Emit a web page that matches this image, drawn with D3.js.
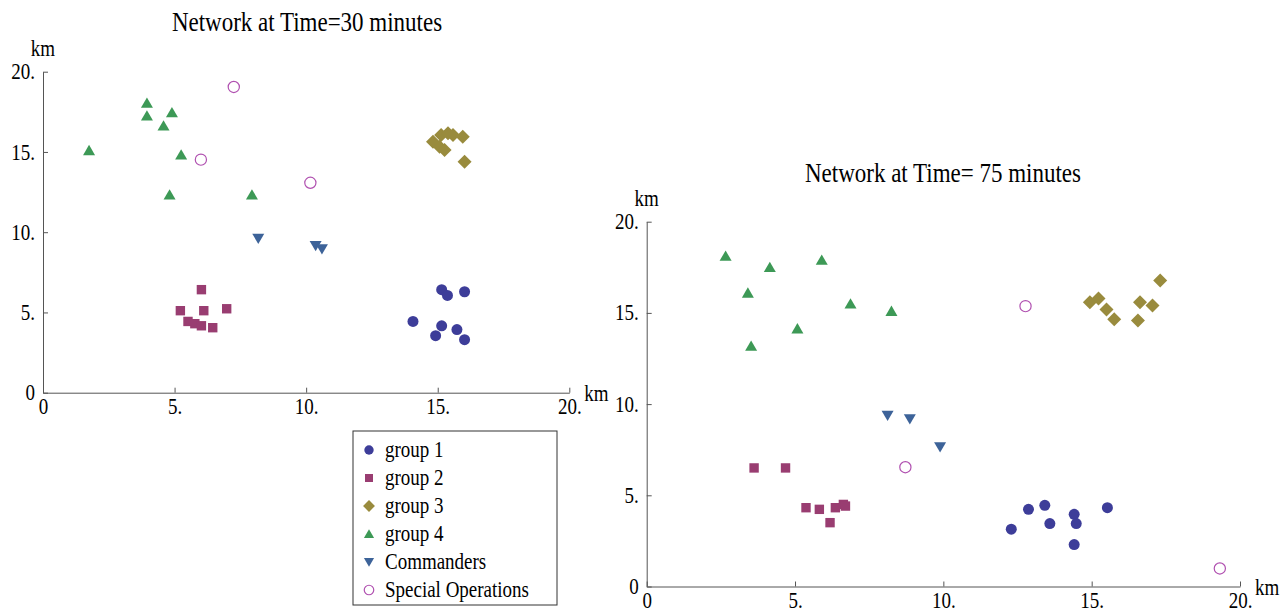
<!DOCTYPE html>
<html>
<head>
<meta charset="utf-8">
<script src="https://cdn.jsdelivr.net/npm/d3@7"></script>
<style>
  body { margin: 0; background: #fff; }
  .axis path, .axis line { stroke: #555; }
</style>
</head>
<body>
<div id="chart"></div>
<script>
var svgWidth = 1286;
var svgHeight = 614;
var serif = "'Liberation Serif', 'Times New Roman', 'DejaVu Serif', serif";
var stretch = 1.16; // text in the original is a little tall and narrow

// tick values shared by both panels (km)
var tickVals = [0, 5, 10, 15, 20];

// positions at time = 30 minutes, [x km, y km]
var group1At30 = [[14.06, 4.44], [15.15, 6.42], [15.37, 6.06], [16.02, 6.29], [15.15, 4.17], [14.92, 3.55], [15.73, 3.93], [16.02, 3.30]];
var group2At30 = [[5.22, 5.11], [5.51, 4.44], [5.77, 4.30], [6.02, 4.17], [6.02, 6.42], [6.11, 5.11], [6.45, 4.05], [6.98, 5.23]];
var group3At30 = [[14.82, 15.64], [15.07, 15.33], [15.26, 15.12], [15.13, 16.06], [15.39, 16.16], [15.58, 16.06], [15.95, 15.95], [16.02, 14.39]];
var group4At30 = [[1.75, 15.10], [3.95, 18.05], [3.95, 17.26], [4.90, 17.46], [4.58, 16.64], [5.25, 14.83], [4.81, 12.34], [7.94, 12.34]];
var commandersAt30 = [[8.18, 9.61], [10.36, 9.16], [10.60, 8.95]];
var specialOpsAt30 = [[7.25, 19.05], [6.00, 14.52], [10.16, 13.08]];

// positions at time = 75 minutes
var group1At75 = [[12.29, 3.14], [12.87, 4.23], [13.42, 4.45], [13.59, 3.45], [14.41, 3.96], [14.48, 3.45], [14.41, 2.30], [15.53, 4.32]];
var group2At75 = [[3.62, 6.50], [4.68, 6.50], [5.37, 4.32], [5.82, 4.23], [6.18, 3.50], [6.36, 4.32], [6.63, 4.50], [6.70, 4.41]];
var group3At75 = [[14.94, 15.59], [15.23, 15.79], [15.50, 15.19], [15.76, 14.65], [16.56, 14.59], [16.63, 15.59], [17.05, 15.41], [17.31, 16.78]];
var group4At75 = [[2.66, 18.12], [4.15, 17.50], [5.90, 17.90], [3.41, 16.10], [6.87, 15.50], [8.25, 15.10], [5.08, 14.14], [3.52, 13.19]];
var commandersAt75 = [[8.12, 9.37], [8.87, 9.18], [9.89, 7.65]];
var specialOpsAt75 = [[12.77, 15.37], [8.72, 6.54], [19.32, 0.99]];

var seriesNames = ["group 1", "group 2", "group 3", "group 4", "Commanders", "Special Operations"];
var seriesShapes = ["circle", "square", "diamond", "triUp", "triDown", "ring"];
var seriesColors = ["#3d3d99", "#993d71", "#998b3d", "#3d9956", "#3d6399", "#b050b0"];

var svg = d3.select("#chart")
  .append("svg")
  .attr("width", svgWidth)
  .attr("height", svgHeight)
  .attr("font-family", serif);

// path for each marker shape, centred on 0,0
function markerPath(shape, k) {
  var p = d3.path();
  if (shape === "circle" || shape === "ring") {
    var r = (shape === "ring" ? 5.6 : 5.5) * k;
    p.arc(0, 0, r, 0, 2 * Math.PI);
  } else if (shape === "square") {
    var h = 4.7 * k;
    p.rect(-h, -h, 2 * h, 2 * h);
  } else if (shape === "diamond") {
    var d = 7 * k;
    p.moveTo(0, -d); p.lineTo(d, 0); p.lineTo(0, d); p.lineTo(-d, 0); p.closePath();
  } else if (shape === "triUp") {
    var w = 6 * k, t = 5.5 * k, b = 4.8 * k;
    p.moveTo(0, -t); p.lineTo(w, b); p.lineTo(-w, b); p.closePath();
  } else {
    var w2 = 6 * k, t2 = 5.5 * k, b2 = 4.8 * k;
    p.moveTo(0, t2); p.lineTo(w2, -b2); p.lineTo(-w2, -b2); p.closePath();
  }
  return p.toString();
}

function styleMarker(sel, i) {
  if (seriesShapes[i] === "ring") {
    sel.attr("fill", "none").attr("stroke", seriesColors[i]).attr("stroke-width", 1.2);
  } else {
    sel.attr("fill", seriesColors[i]).attr("stroke", "none");
  }
}

function tickFmt(v) {
  return v === 0 ? "0" : v + ".";
}

function textStyle(sel, size) {
  sel.style("font-family", serif)
    .style("font-size", size + "px")
    .attr("fill", "#000");
}

// free text placed at x,y (baseline) and stretched vertically
function addText(parent, x, y, size, str, anchor) {
  return parent.append("text")
    .attr("transform", `translate(${x}, ${y}) scale(1, ${stretch})`)
    .attr("text-anchor", anchor || "start")
    .call(textStyle, size)
    .text(str);
}

// draw one panel
function drawPanel(cfg) {
  var x = d3.scaleLinear().domain([0, 20]).range([cfg.left, cfg.right]);
  var y = d3.scaleLinear().domain([0, 20]).range([cfg.bottom, cfg.top]);

  var g = svg.append("g");

  var xAxis = g.append("g")
    .attr("class", "axis")
    .attr("transform", `translate(0, ${cfg.bottom})`)
    .call(d3.axisBottom(x).tickValues(tickVals).tickFormat(tickFmt)
      .tickSizeInner(-5).tickSizeOuter(0).tickPadding(5));
  xAxis.attr("font-family", serif).attr("font-size", null);
  xAxis.selectAll("text").call(textStyle, 19).attr("transform", `scale(1, ${stretch})`);

  var yAxis = g.append("g")
    .attr("class", "axis")
    .attr("transform", `translate(${cfg.left}, 0)`)
    .call(d3.axisLeft(y).tickValues(tickVals).tickFormat(tickFmt)
      .tickSizeInner(-5).tickSizeOuter(0).tickPadding(8));
  yAxis.attr("font-family", serif).attr("font-size", null);
  yAxis.selectAll("text").call(textStyle, 19).attr("transform", `scale(1, ${stretch})`);

  // axis unit labels
  addText(g, cfg.left, cfg.top - 16, 19, "km", "middle");
  addText(g, cfg.right + 15, cfg.bottom + 8, 19, "km");

  addText(g, cfg.titleX, cfg.titleY, 23, cfg.title, "middle");

  cfg.series.forEach(function(data, i) {
    g.append("g").selectAll("path")
      .data(data)
      .enter()
      .append("path")
      .attr("d", markerPath(seriesShapes[i], 1))
      .attr("transform", d => `translate(${x(d[0])}, ${y(d[1])})`)
      .call(styleMarker, i);
  });
}

drawPanel({
  left: 43, right: 569.3, top: 71.7, bottom: 392.7,
  title: "Network at Time=30 minutes", titleX: 307, titleY: 31,
  series: [group1At30, group2At30, group3At30, group4At30, commandersAt30, specialOpsAt30]
});

drawPanel({
  left: 646.7, right: 1240, top: 221.7, bottom: 586.5,
  title: "Network at Time= 75 minutes", titleX: 943, titleY: 182,
  series: [group1At75, group2At75, group3At75, group4At75, commandersAt75, specialOpsAt75]
});

// legend box
var legend = svg.append("g").attr("transform", "translate(353, 431)");

legend.append("rect")
  .attr("width", 204)
  .attr("height", 174)
  .attr("fill", "#fff")
  .attr("stroke", "#333")
  .attr("stroke-width", 1);

var legendRows = legend.selectAll("g.row")
  .data(seriesNames)
  .enter()
  .append("g")
  .attr("class", "row")
  .attr("transform", (d, i) => `translate(16, ${19 + i * 28})`);

legendRows.append("path")
  .attr("d", (d, i) => markerPath(seriesShapes[i], 0.85))
  .each(function(d, i) { styleMarker(d3.select(this), i); });

legendRows.each(function(d) {
  addText(d3.select(this), 16, 6.5, 19, d);
});
</script>
</body>
</html>
